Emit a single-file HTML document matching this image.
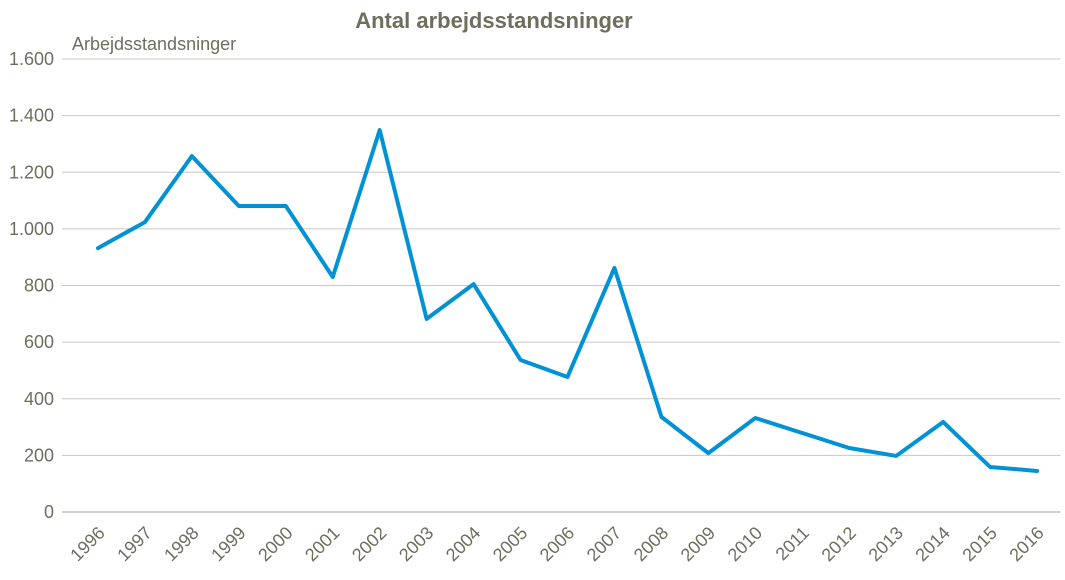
<!DOCTYPE html>
<html><head><meta charset="utf-8"><style>
body{margin:0;background:#fff;}
svg{display:block;font-family:"Liberation Sans Narrow","Liberation Sans",sans-serif;}
</style></head><body>
<svg id="chart" width="1065" height="580">
<text x="494" y="28" text-anchor="middle" font-size="22" font-weight="bold" fill="#6e6e5e">Antal arbejdsstandsninger</text>
<text x="72" y="50" font-size="18" fill="#6e6e5e">Arbejdsstandsninger</text>
<g id="grid"></g><g id="ylabels"></g><g id="xlabels"></g>
<path id="series" fill="none" stroke="#0092d4" stroke-width="4" stroke-linejoin="round" stroke-linecap="round"></path>
</svg>
<script>
const years=["1996","1997","1998","1999","2000","2001","2002","2003","2004","2005","2006","2007","2008","2009","2010","2011","2012","2013","2014","2015","2016"];
const values=[932,1024,1257,1081,1081,830,1349,682,805,537,477,862,336,208,332,279,226,198,318,159,145];
const yTicks=[0,200,400,600,800,1000,1200,1400,1600];
const yTickLabels=["0","200","400","600","800","1.000","1.200","1.400","1.600"];
(function(){
const NS="http://www.w3.org/2000/svg";
const pLeft=74.5,pRight=1060.5,pTop=59,pBottom=512,yMax=1600;
const step=(pRight-pLeft)/years.length;
const sx=i=>pLeft+step*(i+0.5);
const sy=v=>pBottom-(v/yMax)*(pBottom-pTop);
const grid=document.getElementById('grid'),yl=document.getElementById('ylabels'),xl=document.getElementById('xlabels');
yTicks.forEach((t,i)=>{
 const l=document.createElementNS(NS,'line');
 l.setAttribute('x1',62);l.setAttribute('x2',pRight);l.setAttribute('y1',sy(t));l.setAttribute('y2',sy(t));
 l.setAttribute('stroke',t===0?'#a0a0a0':'#c8c8c0');l.setAttribute('stroke-width',1);
 
 
 grid.appendChild(l);
 const tx=document.createElementNS(NS,'text');
 tx.setAttribute('x',54);tx.setAttribute('y',sy(t)+6);tx.setAttribute('text-anchor','end');
 tx.setAttribute('font-size','18');tx.setAttribute('fill','#6e6e5e');
 tx.textContent=yTickLabels[i];
 
 
 yl.appendChild(tx);
});
years.forEach((yr,i)=>{
 const tx=document.createElementNS(NS,'text');
 const px=sx(i)+8,py=pBottom+22;
 tx.setAttribute('x',px);tx.setAttribute('y',py);tx.setAttribute('text-anchor','end');
 tx.setAttribute('font-size','18');tx.setAttribute('fill','#6e6e5e');
 tx.setAttribute('transform','rotate(-45 '+px+' '+py+')');
 tx.textContent=yr;
 
 
 xl.appendChild(tx);
});
document.getElementById('series').setAttribute('d',values.map((v,i)=>(i?'L':'M')+sx(i)+' '+sy(v)).join(' '));
})();
</script>
</body></html>
